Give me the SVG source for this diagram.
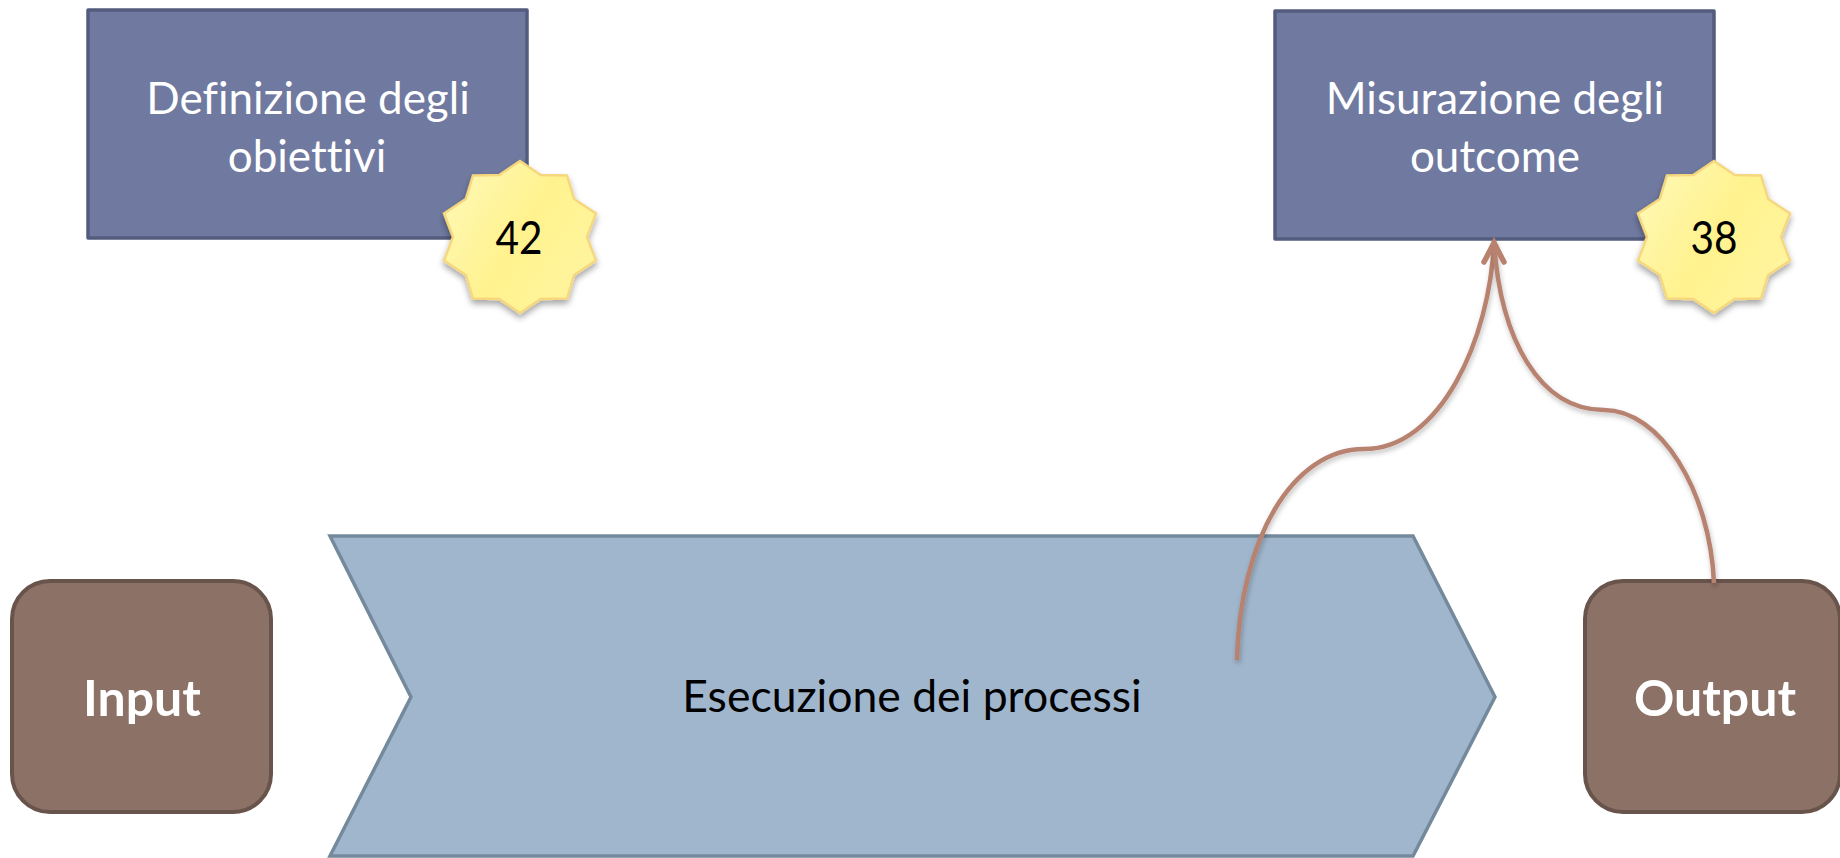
<svg xmlns="http://www.w3.org/2000/svg" width="1840" height="858" viewBox="0 0 1840 858">
<style>
text{font-family:"Lato","Noto Sans",sans-serif;text-anchor:middle;font-variant-ligatures:none}
.box{fill:#707aa0;stroke:#545c7d;stroke-width:3.5;stroke-linejoin:round}
.io{fill:#8c7167;stroke:#69544c;stroke-width:4}
.w{fill:#fff;font-size:44px}
.b{fill:#fff;font-size:50px;font-weight:700}
.k{fill:#000;font-size:44.5px}
.n{fill:#000;font-size:47px}
.star{fill:url(#sg);stroke:#f6d77e;stroke-width:2.5;filter:url(#ss)}
.conn{fill:none;stroke:#b8826f;stroke-width:4.5;filter:url(#cs)}
</style>
<defs>
<linearGradient id="sg" x1="0" y1="0.2" x2="1" y2="0.8"><stop offset="0" stop-color="#fff8b4"/><stop offset="0.5" stop-color="#fff28e"/><stop offset="1" stop-color="#fff5a0"/></linearGradient>
<filter id="ss" x="-20%" y="-20%" width="140%" height="140%"><feDropShadow dx="0" dy="4" stdDeviation="3" flood-color="#000" flood-opacity="0.35"/></filter>
<filter id="cs" x="-20%" y="-20%" width="140%" height="140%"><feDropShadow dx="1" dy="3" stdDeviation="2.5" flood-color="#000" flood-opacity="0.25"/></filter>
<polygon id="burst" points="0,-76 20.7,-62 47,-61.5 54.2,-38 76,-23.5 67,0 76,23.5 54.2,38 47,61.5 20.7,62 0,76 -20.7,62 -47,61.5 -54.2,38 -76,23.5 -67,0 -76,-23.5 -54.2,-38 -47,-61.5 -20.7,-62"/>
</defs>
<g id="node-definizione">
<rect class="box" x="88" y="10" width="439" height="228"/>
<text class="w" x="308" y="114">Definizione degli</text>
<text class="w" x="307" y="172">obiettivi</text>
</g>
<g id="node-misurazione">
<rect class="box" x="1275" y="11" width="439" height="228"/>
<text class="w" x="1495" y="114">Misurazione degli</text>
<text class="w" x="1495" y="172">outcome</text>
</g>
<g id="node-esecuzione">
<polygon points="330,536 1413,536 1495,697 1413,856 330,856 411,697" fill="#a0b6cd" stroke="#748a9c" stroke-width="3.5"/>
<text class="k" x="912" y="712">Esecuzione dei processi</text>
</g>
<g id="node-input">
<rect class="io" x="12" y="581" width="259" height="231" rx="38"/>
<text class="b" x="142" y="716">Input</text>
</g>
<g id="node-output">
<rect class="io" x="1585" y="581" width="255" height="231" rx="38"/>
<text class="b" x="1715" y="716">Output</text>
</g>
<g id="connectors">
<path class="conn" d="M1237 660C1240 540 1292 449 1364 449C1440 449 1490 340 1494 241"/>
<path class="conn" d="M1714 583C1710 490 1660 410 1604 410C1540 410 1500 340 1494 241"/>
<path d="M1484 262L1494 243L1504 262" fill="none" stroke="#b8826f" stroke-width="5.5" stroke-linecap="round"/>
</g>
<g id="badge-42">
<use href="#burst" class="star" x="520" y="237"/>
<text class="n" x="519" y="254" textLength="47" lengthAdjust="spacingAndGlyphs">42</text>
</g>
<g id="badge-38">
<use href="#burst" class="star" x="1714" y="237"/>
<text class="n" x="1714" y="254" textLength="47" lengthAdjust="spacingAndGlyphs">38</text>
</g>
</svg>
